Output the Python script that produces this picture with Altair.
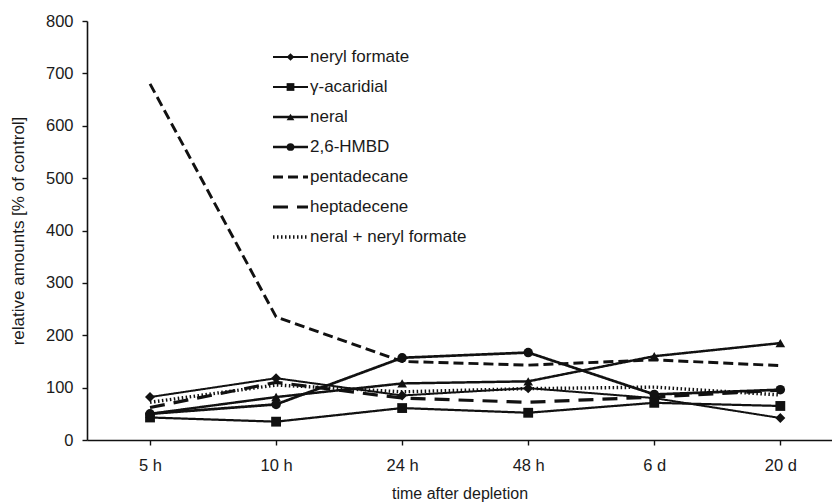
import altair as alt
import pandas as pd

# time points after depletion
time_labels = ["5 h", "10 h", "24 h", "48 h", "6 d", "20 d"]

# relative amounts [% of control] for each compound
neryl_formate = [82, 118, 85, 99, 80, 42]
gamma_acaridial = [43, 35, 61, 52, 71, 65]
neral = [50, 82, 108, 112, 160, 185]
hmbd = [50, 68, 157, 167, 87, 96]
pentadecane = [680, 235, 150, 143, 153, 142]
heptadecene = [62, 110, 80, 72, 82, 95]
neral_plus_neryl_formate = [72, 105, 92, 98, 101, 86]

series_names = [
    "neryl formate",
    "\u03b3-acaridial",
    "neral",
    "2,6-HMBD",
    "pentadecane",
    "heptadecene",
    "neral + neryl formate",
]
series_values = [
    neryl_formate,
    gamma_acaridial,
    neral,
    hmbd,
    pentadecane,
    heptadecene,
    neral_plus_neryl_formate,
]

# line styling per compound
dash_range = [[1, 0], [1, 0], [1, 0], [1, 0], [10, 5], [15, 9], [1.5, 2.5]]
width_range = [2.0, 3.4, 2.0, 3.6, 2.8, 3.0, 1.6]
marker_names = series_names[:4]
marker_shapes = ["diamond", "square", "triangle-up", "circle"]
marker_sizes = [100, 90, 105, 140]
key_marker_sizes = [60, 60, 60, 80]

rows = []
for name, vals in zip(series_names, series_values):
    for i, v in enumerate(vals):
        rows.append({"series": name, "t": i, "value": v})
df = pd.DataFrame(rows)
df_pts = df[df["series"].isin(marker_names)]

legend_df = pd.DataFrame({"series": series_names, "row": list(range(len(series_names)))})
legend_pts = legend_df[legend_df["series"].isin(marker_names)]

FONT = "Liberation Sans"
INK = "#111111"
TEXT = "#1a1a1a"

dash_scale = alt.Scale(domain=series_names, range=dash_range)
width_scale = alt.Scale(domain=series_names, range=width_range)
shape_scale = alt.Scale(domain=marker_names, range=marker_shapes)
size_scale = alt.Scale(domain=marker_names, range=marker_sizes)

label_expr = "[" + ",".join("'%s'" % s for s in time_labels) + "][datum.value]"

x_enc = alt.X(
    "t:Q",
    scale=alt.Scale(domain=[-0.5, 5.41], nice=False, zero=False),
    axis=alt.Axis(
        values=list(range(len(time_labels))),
        labelExpr=label_expr,
        title="time after depletion",
        grid=False,
        tickSize=5,
        labelPadding=12,
        titlePadding=12,
    ),
)
y_enc = alt.Y(
    "value:Q",
    scale=alt.Scale(domain=[0, 800], nice=False),
    axis=alt.Axis(
        values=list(range(0, 801, 100)),
        title="relative amounts [% of control]",
        grid=False,
        tickSize=5,
        labelPadding=9,
        titlePadding=18,
        titleFontSize=17,
    ),
)

lines = alt.Chart(df).mark_line(color=INK, strokeCap="butt").encode(
    x=x_enc,
    y=y_enc,
    detail="series:N",
    strokeDash=alt.StrokeDash("series:N", scale=dash_scale, legend=None),
    strokeWidth=alt.StrokeWidth("series:N", scale=width_scale, legend=None),
)

points = alt.Chart(df_pts).mark_point(filled=True, color=INK, opacity=1).encode(
    x=alt.X("t:Q"),
    y=alt.Y("value:Q"),
    shape=alt.Shape("series:N", scale=shape_scale, legend=None),
    size=alt.Size("series:N", scale=size_scale, legend=None),
)

main = alt.layer(lines, points)

# key drawn inside the plot area
leg_y = alt.Y("row:Q", scale=alt.Scale(domain=[0, 6], range=[36, 216]), axis=None)
leg_lines = alt.Chart(legend_df).mark_rule(color=INK, strokeCap="butt").encode(
    x=alt.value(186),
    x2=alt.value(221),
    y=leg_y,
    strokeDash=alt.StrokeDash("series:N", scale=dash_scale, legend=None),
    strokeWidth=alt.StrokeWidth("series:N", scale=width_scale, legend=None),
)
leg_pts = alt.Chart(legend_pts).mark_point(filled=True, color=INK, opacity=1).encode(
    x=alt.value(203.5),
    y=alt.Y("row:Q"),
    shape=alt.Shape("series:N", scale=shape_scale, legend=None),
    size=alt.Size("series:N", scale=alt.Scale(domain=marker_names, range=key_marker_sizes), legend=None),
)
leg_text = alt.Chart(legend_df).mark_text(
    align="left", baseline="middle", font=FONT, fontSize=17, color=TEXT
).encode(
    x=alt.value(223),
    y=alt.Y("row:Q"),
    text="series:N",
)
key = alt.layer(leg_lines, leg_pts, leg_text)

chart = (
    alt.layer(main, key)
    .resolve_scale(y="independent", size="independent")
    .properties(
        width=745,
        height=419,
        autosize=alt.AutoSizeParams(type="none"),
        padding={"left": 87, "top": 21, "right": 0, "bottom": 64},
    )
    .configure_view(stroke=None)
    .configure_axis(
        domainColor=INK,
        domainWidth=1.6,
        tickColor=INK,
        tickWidth=1.4,
        labelFont=FONT,
        labelFontSize=16.5,
        labelColor=TEXT,
        titleFont=FONT,
        titleFontSize=16,
        titleFontWeight="normal",
        titleColor=TEXT,
    )
)

chart.save("out.html", embed_options={"renderer": "svg", "actions": False})
